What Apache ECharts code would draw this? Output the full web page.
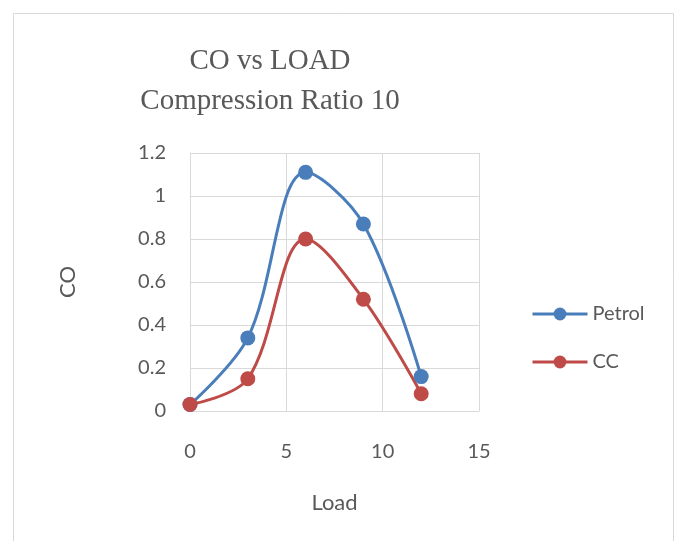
<!DOCTYPE html>
<html>
<head>
<meta charset="utf-8">
<script src="https://cdn.jsdelivr.net/npm/echarts@6/dist/echarts.min.js"></script>
<style>
  html, body { margin: 0; padding: 0; background: #fff; }
  #myChart { width: 678px; height: 541px; }
</style>
</head>
<body>
<div id="myChart"></div>
<script>
// load values on the x axis
const loads = [0, 3, 6, 9, 12]
const petrol = [0.03, 0.34, 1.11, 0.87, 0.16]
const cc = [0.03, 0.15, 0.80, 0.52, 0.08]
const seriesNames = ['Petrol', 'CC']

const pair = (xs, ys) => xs.map((x, i) => [x, ys[i]])

const grey = '#595959'
const gridColor = '#d9d9d9'
const labelFont = 'Lato, "Liberation Sans", sans-serif'

let myChart = echarts.init(document.getElementById('myChart'))
let options = {
  animation: false,
  title: {
    text: 'CO vs LOAD\nCompression Ratio 10',
    left: 265,
    top: 36,
    textAlign: 'center',
    textStyle: {
      fontFamily: '"Liberation Serif", "Times New Roman", serif',
      fontWeight: 'normal',
      fontSize: 29,
      lineHeight: 40,
      color: grey
    }
  },
  graphic: [{
    type: 'rect',
    shape: { x: 13.5, y: 13.5, width: 660, height: 560 },
    style: { fill: 'none', stroke: gridColor, lineWidth: 1 },
    silent: true
  }],
  legend: {
    data: seriesNames,
    orient: 'vertical',
    left: 531,
    top: 304,
    padding: 0,
    itemWidth: 55,
    itemHeight: 16,
    itemGap: 28,
    lineStyle: { width: 3 },
    textStyle: { fontFamily: labelFont, fontSize: 20, color: grey }
  },
  grid: {
    left: 190,
    right: 199,
    top: 153,
    bottom: 130
  },
  xAxis: {
    type: 'value',
    min: 0,
    max: 15,
    interval: 5,
    name: 'Load',
    nameLocation: 'middle',
    nameGap: 81,
    nameTextStyle: { fontFamily: labelFont, fontSize: 22, color: grey },
    axisLine: { lineStyle: { color: gridColor } },
    axisTick: { show: false },
    axisLabel: { fontFamily: labelFont, fontSize: 20, color: grey, margin: 31 },
    splitLine: { show: true, lineStyle: { color: gridColor } }
  },
  yAxis: {
    type: 'value',
    min: 0,
    max: 1.2,
    interval: 0.2,
    name: 'CO',
    nameLocation: 'middle',
    nameGap: 111,
    nameTextStyle: { fontFamily: labelFont, fontSize: 22, color: grey },
    axisLine: { show: true, lineStyle: { color: gridColor } },
    axisTick: { show: false },
    axisLabel: {
      fontFamily: labelFont, fontSize: 20, color: grey, margin: 24,
      formatter: v => String(Math.round(v * 10) / 10)
    },
    splitLine: { show: true, lineStyle: { color: gridColor } }
  },
  series: [{
    name: 'Petrol',
    type: 'line',
    data: pair(loads, petrol),
    smooth: 0.35,
    symbol: 'circle',
    symbolSize: 15,
    color: '#4a7ebb',
    lineStyle: { width: 3 }
  }, {
    name: 'CC',
    type: 'line',
    data: pair(loads, cc),
    smooth: 0.35,
    symbol: 'circle',
    symbolSize: 15,
    color: '#be4b48',
    lineStyle: { width: 3 }
  }]
}
myChart.setOption(options)
</script>
</body>
</html>
